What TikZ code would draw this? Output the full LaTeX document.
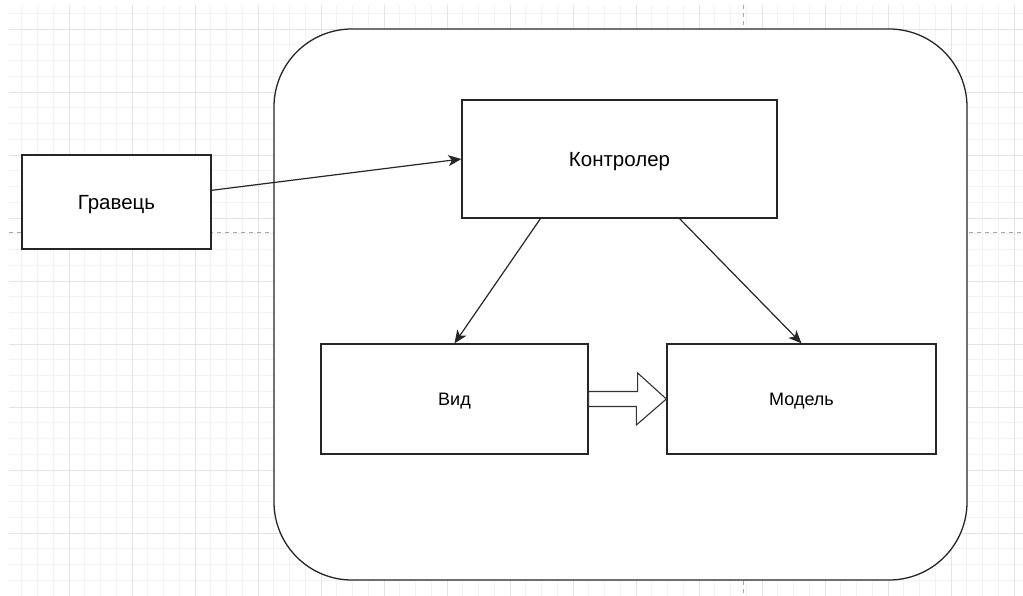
\documentclass[tikz,border=0pt]{standalone}
\usepackage{fontspec}
\setmainfont{Liberation Sans}
\usetikzlibrary{arrows.meta,calc}

\begin{document}
\begin{tikzpicture}[
          x=1pt, y=-1pt,
          >={Stealth[length=13pt,width=11pt,inset=3.5pt]},
          minorline/.style={draw=black!5, line width=0.8pt},
          majorline/.style={draw=black!11, line width=0.8pt},
          pageline/.style={draw=black!35, line width=0.8pt, dash pattern=on 4pt off 4pt},
          box/.style={rectangle, draw=black!85, fill=white, line width=1.3pt,
              align=center, inner sep=0pt},
          bigtext/.style={font=\fontsize{20.5}{24}\selectfont, text depth=0pt},
          smalltext/.style={font=\fontsize{18}{22}\selectfont, text depth=0pt},
          arr/.style={->, draw=black!85, line width=1.2pt},
          blockarr/.style={draw=black!80, fill=white, line width=1.1pt, line join=miter}
      ]
      \useasboundingbox (0,0) rectangle (1023,596);
      \fill[white] (0,0) rectangle (1023,596);
      \begin{scope}
        \clip (9,5) rectangle (1023,596);
        \foreach \i in {1,...,64} \draw[minorline] ({6+15.75*\i},5) -- ({6+15.75*\i},596);
        \foreach \j in {3,...,40} \draw[minorline] (9,{-34+15.75*\j}) -- (1023,{-34+15.75*\j});
        \foreach \k in {1,...,16} \draw[majorline] ({6+63*\k},5) -- ({6+63*\k},596);
        \foreach \k in {1,...,10} \draw[majorline] (9,{-34+63*\k}) -- (1023,{-34+63*\k});
        \draw[pageline] (743,5) -- (743,596);
        \draw[pageline] (9,232) -- (1023,232);
      \end{scope}
      \node[box, minimum width=693pt, minimum height=551pt, rounded corners=78pt] (app) at (620.5,304.5) {};
      \node[box, bigtext, minimum width=189pt, minimum height=94pt]  (player)     at (116.5,202) {Гравець};
      \node[box, bigtext, minimum width=315pt, minimum height=118pt] (controller) at (619.5,159) {Контролер};
      \node[box, smalltext, minimum width=267pt, minimum height=110pt] (view)     at (454.5,399) {Вид};
      \node[box, smalltext, minimum width=269pt, minimum height=110pt] (model)    at (801.5,399) {Модель};
      \draw[arr] (player.7) -- (controller.west);
      \draw[arr] ($(controller.south west)!0.25!(controller.south east)$) -- (view.north);
      \draw[arr] ($(controller.south west)!0.69!(controller.south east)$) -- (model.north);
      \draw[blockarr] ($(view.east)+(0,-7.5)$) -- ++(49,0) -- ++(0,-18.5) -- (model.west)
          -- ++(-30,26) -- ++(0,-18.5) -- ($(view.east)+(0,7.5)$) -- cycle;
      \end{tikzpicture}
\end{document}
